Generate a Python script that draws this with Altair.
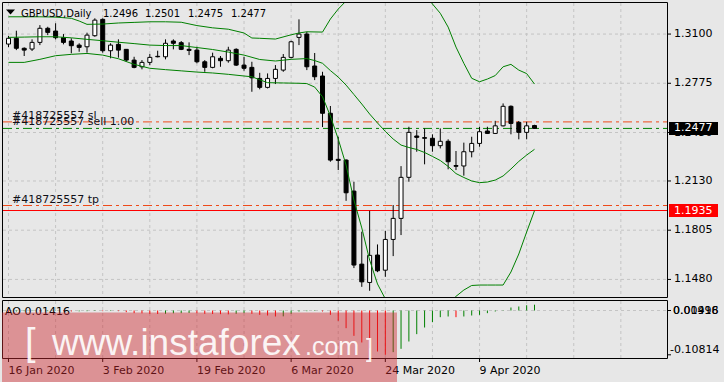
import altair as alt
import pandas as pd

# ---------------- data ----------------
opens = [1.3034, 1.3072, 1.3006, 1.3001, 1.3045, 1.3138, 1.3120, 1.3076, 1.3054, 1.3027,
         1.3016, 1.3089, 1.3197, 1.2990, 1.3032, 1.2999, 1.2928, 1.2884, 1.2913, 1.2953,
         1.2950, 1.3054, 1.3043, 1.2999, 1.2994, 1.2917, 1.2880, 1.2940, 1.2924, 1.2999,
         1.2895, 1.2880, 1.2807, 1.2748, 1.2807, 1.2862, 1.2946, 1.3078, 1.3100, 1.2889,
         1.2823, 1.2577, 1.2273, 1.2268, 1.2063, 1.1581, 1.1460, 1.1641, 1.1541, 1.1744,
         1.1883, 1.2154, 1.2427, 1.2416, 1.2412, 1.2363, 1.2392, 1.2232, 1.2229, 1.2323,
         1.2378, 1.2460, 1.2444, 1.2494, 1.2623, 1.2517, 1.2451, 1.2496]
highs = [1.3087, 1.3122, 1.3012, 1.3065, 1.3159, 1.3148, 1.3171, 1.3100, 1.3072, 1.3039,
         1.3109, 1.3204, 1.3204, 1.3039, 1.3065, 1.3000, 1.2950, 1.2928, 1.2968, 1.2990,
         1.3065, 1.3065, 1.3054, 1.3045, 1.3016, 1.2928, 1.2977, 1.2955, 1.3016, 1.3006,
         1.2950, 1.2917, 1.2844, 1.2840, 1.2895, 1.2968, 1.3056, 1.3197, 1.3115, 1.2975,
         1.2851, 1.2625, 1.2422, 1.2273, 1.2125, 1.1795, 1.1933, 1.1711, 1.1801, 1.1971,
         1.2228, 1.2488, 1.2466, 1.2477, 1.2438, 1.2477, 1.2405, 1.2328, 1.2383, 1.2422,
         1.2488, 1.2488, 1.2527, 1.2642, 1.2629, 1.2526, 1.2521, 1.2501]
lows = [1.3014, 1.2994, 1.2955, 1.2988, 1.3027, 1.3093, 1.3065, 1.3032, 1.2973, 1.2983,
        1.2977, 1.3082, 1.2977, 1.2940, 1.2944, 1.2917, 1.2874, 1.2867, 1.2895, 1.2946,
        1.2933, 1.2999, 1.2994, 1.2961, 1.2907, 1.2851, 1.2874, 1.2884, 1.2911, 1.2889,
        1.2858, 1.2719, 1.2735, 1.2741, 1.2770, 1.2851, 1.2940, 1.3027, 1.2862, 1.2796,
        1.2486, 1.2257, 1.2202, 1.1999, 1.1555, 1.1431, 1.1405, 1.1528, 1.1497, 1.1634,
        1.1773, 1.2125, 1.2323, 1.2240, 1.2323, 1.2345, 1.2207, 1.2202, 1.2165, 1.2286,
        1.2356, 1.2440, 1.2440, 1.2490, 1.2438, 1.2405, 1.2405, 1.2475]
closes = [1.3072, 1.3006, 1.2994, 1.3045, 1.3138, 1.3111, 1.3076, 1.3045, 1.3023, 1.3012,
          1.3093, 1.3192, 1.2990, 1.3027, 1.2994, 1.2928, 1.2880, 1.2913, 1.2946, 1.2950,
          1.3039, 1.3039, 1.2999, 1.2992, 1.2917, 1.2880, 1.2950, 1.2924, 1.2994, 1.2895,
          1.2874, 1.2811, 1.2748, 1.2807, 1.2867, 1.2946, 1.3049, 1.3100, 1.2884, 1.2818,
          1.2577, 1.2268, 1.2266, 1.2052, 1.1575, 1.1464, 1.1639, 1.1537, 1.1744, 1.1883,
          1.2154, 1.2451, 1.2418, 1.2412, 1.2363, 1.2392, 1.2257, 1.2227, 1.2323, 1.2378,
          1.2455, 1.2444, 1.2494, 1.2623, 1.2510, 1.2451, 1.2494, 1.2477]

# Bollinger bands (bar index, price); segments leave / re-enter the panel
upper1_i = [0, 2, 4, 6, 8, 9, 10, 12, 14, 16, 18, 20, 22, 24, 26, 28, 30, 31, 32, 34, 36, 37, 38, 40, 41, 42, 42.75]
upper1_p = [1.3214, 1.3214, 1.3214, 1.3212, 1.3204, 1.3186, 1.3164, 1.3166, 1.3173, 1.3177, 1.3181, 1.3181,
            1.3178, 1.3156, 1.3141, 1.3132, 1.3107, 1.3074, 1.3072, 1.3067, 1.3095, 1.3107, 1.3115, 1.3113,
            1.3199, 1.3265, 1.3305]
upper2_i = [53.9, 55, 56, 57, 58, 59, 60, 61, 62, 63, 64, 65, 66, 67]
upper2_p = [1.3305, 1.3237, 1.3146, 1.3014, 1.2907, 1.2808, 1.2785, 1.2803, 1.2826, 1.2884, 1.2900,
            1.2862, 1.2839, 1.2770]
middle_i = [0, 2, 4, 6, 8, 10, 12, 14, 16, 18, 20, 22, 24, 26, 28, 30, 32, 34, 36, 38,
            39, 40, 41, 42, 43, 44, 45, 46, 47, 48, 49, 50, 51, 52, 53, 54, 55, 56, 57, 58,
            59, 60, 61, 62, 63, 64, 65, 66, 67]
middle_p = [1.3078, 1.3080, 1.3082, 1.3082, 1.3075, 1.3065, 1.3056, 1.3046, 1.3037, 1.3027,
            1.3024, 1.3024, 1.3011, 1.2998, 1.2981, 1.2961, 1.2932, 1.2922, 1.2933, 1.2938,
            1.2925, 1.2907, 1.2859, 1.2816, 1.2763, 1.2701, 1.2638, 1.2572, 1.2513, 1.2457,
            1.2407, 1.2367, 1.2351, 1.2338, 1.2318, 1.2292, 1.2265, 1.2226, 1.2179, 1.2153,
            1.2130, 1.2119, 1.2123, 1.2136, 1.2163, 1.2209, 1.2259, 1.2301, 1.2339]
lower1_i = [0, 2, 4, 6, 8, 10, 12, 14, 16, 18, 20, 22, 24, 26, 28, 30,
            31, 32, 33, 35, 37, 38, 39, 40, 41, 42, 43, 44, 45, 46, 47, 47.875]
lower1_p = [1.2913, 1.2913, 1.2933, 1.2957, 1.2966, 1.2972, 1.2961, 1.2937, 1.2900, 1.2874,
            1.2865, 1.2857, 1.2849, 1.2843, 1.2834, 1.2823,
            1.2818, 1.2798, 1.2779, 1.2777, 1.2775, 1.2773, 1.2750, 1.2686, 1.2559, 1.2407,
            1.2235, 1.2004, 1.1820, 1.1608, 1.1450, 1.1364]
lower2_i = [56.9, 58, 59, 60, 61, 62, 63, 64, 65, 66, 67]
lower2_p = [1.1364, 1.1410, 1.1440, 1.1443, 1.1443, 1.1443, 1.1443, 1.1529, 1.1648, 1.1793, 1.1934]

ao_values = [-0.0033, -0.0024, -0.0016, -0.0012, -0.0024, -0.0016, -0.0008, -0.0016, -0.0024, -0.0020,
             -0.0016, -0.0012, -0.0016, -0.0012, -0.0016, -0.0041, -0.0065, -0.0069, -0.0081, -0.0085,
             -0.0081, -0.0069, -0.0065, -0.0061, -0.0065, -0.0081, -0.0085, -0.0089, -0.0094, -0.0081,
             -0.0065, -0.0081, -0.0106, -0.0122, -0.0146, -0.0142, -0.0081, -0.0024, -0.0016, -0.0012,
             -0.0024, -0.0106, -0.0252, -0.0431, -0.0618, -0.0780, -0.0919, -0.1000, -0.1081, -0.1016,
             -0.0935, -0.0756, -0.0577, -0.0415, -0.0285, -0.0163, -0.0146, -0.0163, -0.0146, -0.0122,
             -0.0106, -0.0065, -0.0024, 0.0008, 0.0073, 0.0098, 0.0128, 0.0142]

price_ticks = [1.3100, 1.2775, 1.2450, 1.2130, 1.1805, 1.1480]
price_labels = ["1.3100", "1.2775", "1.2450", "1.2130", "1.1805", "1.1480"]
grid_idx = list(range(0, 79, 6))
date_idx = [0, 12, 24, 36, 48, 60]
date_labels = ["16 Jan 2020", "3 Feb 2020", "19 Feb 2020", "6 Mar 2020", "24 Mar 2020", "9 Apr 2020"]
order_names = ["#418725557 sl", "#418725557 sell 1.00", "#418725557 tp"]
order_prices = [1.2520, 1.2477, 1.1968]
order_kinds = ["stop", "entry", "stop"]
alert_price = 1.1935
bid_price = 1.2477
title_parts = ["GBPUSD,Daily", "1.2496", "1.2501", "1.2475", "1.2477"]
ao_current = "AO 0.01416"
ao_max_labels = ["0.01416", "0.00998"]
ao_min = -0.10814

# ---------------- styling / scales ----------------
FONT = "DejaVu Sans"
GRID = "#c4c4c4"
GREEN = "#008000"
ORANGE = "#ee4a1a"
BG = "#e7e7e7"
XS = alt.Scale(domain=[0, 67], range=[3.5, 539.5])
PS = alt.Scale(domain=[1.1364, 1.3305], range=[297, 3])
AS = alt.Scale(domain=[-0.1159, 0.0232], range=[358, 301])


def xq(f="i"):
    return alt.X(f"{f}:Q", scale=XS, axis=None)


def yp(f="p"):
    return alt.Y(f"{f}:Q", scale=PS, axis=None)


def ya(f):
    return alt.Y(f"{f}:Q", scale=AS, axis=None)


one = pd.DataFrame({"k": [0]})
layers = []

# grids
gv = pd.DataFrame({"i": grid_idx})
layers.append(alt.Chart(gv).mark_rule(color=GRID, strokeDash=[3, 3], strokeWidth=1).encode(
    x=xq(), y=alt.value(3), y2=alt.value(297)))
layers.append(alt.Chart(gv).mark_rule(color=GRID, strokeDash=[3, 3], strokeWidth=1).encode(
    x=xq(), y=alt.value(301), y2=alt.value(358)))
gh = pd.DataFrame({"p": price_ticks, "lab": price_labels})
layers.append(alt.Chart(gh).mark_rule(color=GRID, strokeDash=[3, 3], strokeWidth=1).encode(
    x=alt.value(3), x2=alt.value(667), y=yp()))
layers.append(alt.Chart(pd.DataFrame({"v": [0.0]})).mark_rule(color=GRID, strokeDash=[3, 3], strokeWidth=1).encode(
    x=alt.value(3), x2=alt.value(667), y=ya("v")))

# order lines
od = pd.DataFrame({"p": order_prices, "name": order_names, "kind": order_kinds})
od["col"] = [ORANGE if k == "stop" else GREEN for k in order_kinds]
layers.append(alt.Chart(od).mark_rule(strokeDash=[9, 4, 3, 4], strokeWidth=1).encode(
    x=alt.value(3), x2=alt.value(667), y=yp(), color=alt.Color("col:N", scale=None)))
layers.append(alt.Chart(pd.DataFrame({"p": [alert_price]})).mark_rule(color="#ff0000", strokeWidth=1).encode(
    x=alt.value(3), x2=alt.value(667), y=yp()))

# candles
cd = pd.DataFrame({"i": list(range(len(opens))), "o": opens, "h": highs, "l": lows, "c": closes})
cd["fill"] = ["white" if c >= o else "black" for o, c in zip(opens, closes)]
layers.append(alt.Chart(cd).mark_rule(color="black", strokeWidth=1).encode(
    x=xq(), y=yp("l"), y2="h:Q"))
layers.append(alt.Chart(cd).mark_bar(size=4, stroke="black", strokeWidth=1).encode(
    x=xq(), y=yp("o"), y2="c:Q", fill=alt.Fill("fill:N", scale=None)))

# bands
bd = pd.concat([
    pd.DataFrame({"i": upper1_i, "p": upper1_p, "seg": "u1"}),
    pd.DataFrame({"i": upper2_i, "p": upper2_p, "seg": "u2"}),
    pd.DataFrame({"i": middle_i, "p": middle_p, "seg": "m"}),
    pd.DataFrame({"i": lower1_i, "p": lower1_p, "seg": "l1"}),
    pd.DataFrame({"i": lower2_i, "p": lower2_p, "seg": "l2"}),
], ignore_index=True)
layers.append(alt.Chart(bd).mark_line(color=GREEN, strokeWidth=1).encode(
    x=xq(), y=yp(), detail="seg:N", order="i:Q"))

# order labels
layers.append(alt.Chart(od).mark_text(align="left", baseline="alphabetic", dy=-3, font=FONT, fontSize=11,
                                      color="#101018").encode(x=alt.value(12), y=yp(), text="name:N"))

# AO histogram
ad = pd.DataFrame({"i": list(range(len(ao_values))), "ao": ao_values, "zero": 0.0})
ad["col"] = ["#ff0000" if (k == 0 or v <= ao_values[k - 1]) else GREEN for k, v in enumerate(ao_values)]
layers.append(alt.Chart(ad).mark_rule(strokeWidth=1).encode(
    x=xq(), y=ya("zero"), y2="ao:Q", color=alt.Color("col:N", scale=None)))

# frames
layers.append(alt.Chart(one).mark_rect(fillOpacity=0, stroke="black", strokeWidth=1).encode(
    x=alt.value(2.5), x2=alt.value(667.5), y=alt.value(2.5), y2=alt.value(297.5)))
layers.append(alt.Chart(one).mark_rect(fillOpacity=0, stroke="black", strokeWidth=1).encode(
    x=alt.value(2.5), x2=alt.value(667.5), y=alt.value(300.5), y2=alt.value(358.5)))

# right price axis
layers.append(alt.Chart(gh).mark_rule(color="black", strokeWidth=1).encode(
    x=alt.value(667), x2=alt.value(671), y=yp()))
layers.append(alt.Chart(gh).mark_text(align="left", baseline="middle", font=FONT, fontSize=11, color="black").encode(
    x=alt.value(674), y=yp(), text="lab:N"))
boxes = pd.DataFrame({"p": [bid_price, alert_price], "lab": [f"{bid_price:.4f}", f"{alert_price:.4f}"],
                      "col": ["black", "#ff0000"]})
layers.append(alt.Chart(boxes).mark_point(shape="M-1,-0.265L1,-0.265L1,0.265L-1,0.265Z", size=2401,
                                          filled=True, opacity=1, strokeWidth=0).encode(
    x=alt.value(693.5), y=yp(), color=alt.Color("col:N", scale=None)))
layers.append(alt.Chart(boxes).mark_text(align="left", baseline="middle", font=FONT, fontSize=11, color="white").encode(
    x=alt.value(674), y=yp(), text="lab:N"))

# AO labels
aol = pd.DataFrame({"v": [0.0, 0.0], "lab": ao_max_labels})
layers.append(alt.Chart(aol).mark_text(align="left", baseline="middle", font=FONT, fontSize=11, color="black").encode(
    x=alt.value(673), y=ya("v"), text="lab:N"))
layers.append(alt.Chart(pd.DataFrame({"v": [ao_min], "lab": [f"{ao_min:.5f}"]})).mark_text(
    align="left", baseline="middle", dy=-4.5, font=FONT, fontSize=11, color="black").encode(
    x=alt.value(670), y=ya("v"), text="lab:N"))
layers.append(alt.Chart(pd.DataFrame({"v": [0.0, ao_min]})).mark_rule(color="black").encode(
    x=alt.value(667), x2=alt.value(671), y=ya("v")))
layers.append(alt.Chart(pd.DataFrame({"v": [0.0], "lab": [ao_current]})).mark_text(
    align="left", baseline="middle", dy=1, font=FONT, fontSize=11, color="black").encode(
    x=alt.value(5), y=ya("v"), text="lab:N"))

# dates
dd = pd.DataFrame({"i": date_idx, "lab": date_labels})
layers.append(alt.Chart(dd).mark_rule(color="black").encode(x=xq(), y=alt.value(358.5), y2=alt.value(362)))
layers.append(alt.Chart(dd).mark_text(align="left", baseline="alphabetic", font=FONT, fontSize=11, color="black").encode(
    x=xq(), y=alt.value(373.5), text="lab:N"))

# title
layers.append(alt.Chart(one).mark_point(shape="M-1,-0.55L1,-0.55L0,0.55Z", size=81, filled=True, opacity=1,
                                        color="black", strokeWidth=0).encode(x=alt.value(10.5), y=alt.value(12)))
for part, px in zip(title_parts, [21, 103, 145, 188, 231]):
    layers.append(alt.Chart(pd.DataFrame({"t": [part]})).mark_text(
        align="left", baseline="alphabetic", font=FONT, fontSize=10, color="black").encode(
        x=alt.value(px), y=alt.value(16.5), text="t:N"))

# watermark
layers.append(alt.Chart(one).mark_rect(color="#cf2a30", opacity=0.45).encode(
    x=alt.value(2), x2=alt.value(397), y=alt.value(312.5), y2=alt.value(382)))
for txt, px, py, fs in [("[", 25, 355, 38), ("www.instaforex", 52, 355, 37), (".com", 305, 355, 25), ("]", 366, 357, 25)]:
    layers.append(alt.Chart(pd.DataFrame({"t": [txt]})).mark_text(
        align="left", baseline="alphabetic", font="Liberation Sans", fontSize=fs, color="white", opacity=0.9).encode(
        x=alt.value(px), y=alt.value(py), text="t:N"))

chart = alt.layer(*layers).resolve_scale(y="independent").properties(
    width=724, height=382, autosize=alt.AutoSizeParams(type="none"), padding=0, background=BG
).configure_view(strokeWidth=0)

chart.save("out.html", embed_options={"renderer": "svg", "actions": False})
